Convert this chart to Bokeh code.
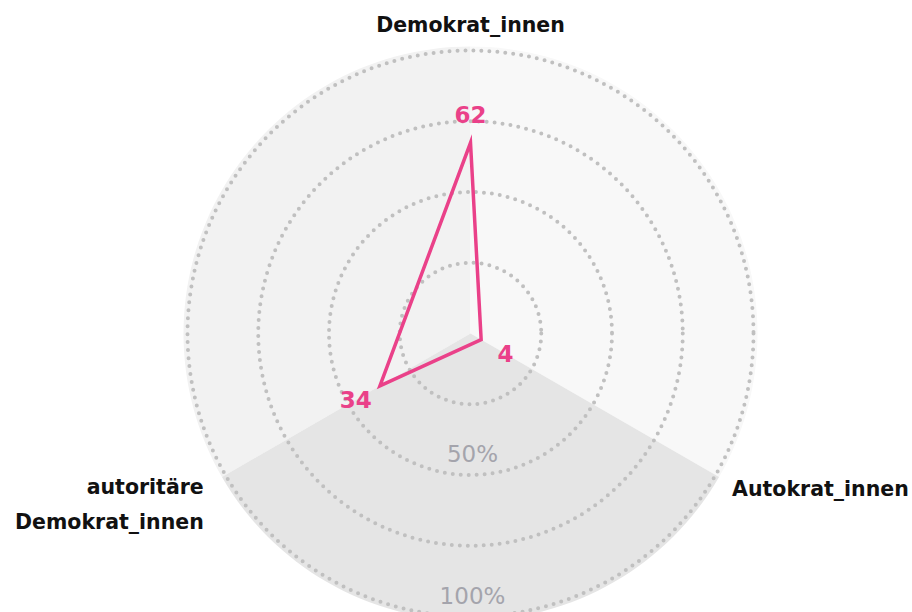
import numpy as np
from bokeh.plotting import figure
from bokeh.models import Range1d
from bokeh.core.properties import value
from bokeh.embed import file_html
from bokeh.resources import INLINE

# ---- data ----
categories = ["Demokrat_innen", "Autokrat_innen", "autoritäre\nDemokrat_innen"]
values = [62, 4, 34]
ring_levels = [25, 50, 75, 100]
tick_levels = [50, 100]
tick_labels = ["50%", "100%"]

# ---- layout / style ----
W, H = 912, 612
CX, CY = 470, 279          # centre in pixel-like data units
R_OUT = 283                # radius of outer ring
SCALE_MAX = 92             # value mapped to outer ring radius
axis_angles = np.deg2rad([90, -30, 210])
PINK = "#ea4189"
FONT = "DejaVu Sans"

def rad(v):
    return np.asarray(v, dtype=float) / SCALE_MAX * R_OUT

def ring_rad(level):
    return np.asarray(level, dtype=float) / 100 * R_OUT

p = figure(width=W, height=H, output_backend="svg", toolbar_location=None,
           x_range=Range1d(0, W), y_range=Range1d(0, H), min_border=0)
p.axis.visible = False
p.grid.visible = False
p.outline_line_color = None
p.background_fill_color = "white"

# sector backgrounds (between axes)
sec_colors = ["#f2f2f2", "#f8f8f8", "#e5e5e5"]
p.wedge(x=[CX] * 3, y=[CY] * 3, radius=R_OUT + 4,
        start_angle=[np.deg2rad(90), np.deg2rad(-30), np.deg2rad(210)],
        end_angle=[np.deg2rad(210), np.deg2rad(90), np.deg2rad(330)],
        fill_color=sec_colors, line_color=None)

# dotted rings
p.circle(x=[CX] * len(ring_levels), y=[CY] * len(ring_levels),
         radius=ring_rad(ring_levels), fill_color=None,
         line_color="#c0c0c0", line_width=4, line_dash="0 8", line_cap="round")

# ring tick labels
p.text(x=[CX + 2] * len(tick_levels), y=CY - (ring_rad(tick_levels) - 21),
       text=tick_labels, text_align="center", text_baseline="middle",
       text_color="#a4a4ac", text_font=value(FONT), text_font_size="23px")

# data polygon
r = rad(values)
xs = CX + r * np.cos(axis_angles)
ys = CY + r * np.sin(axis_angles)
p.patch(x=list(xs), y=list(ys), fill_color=None, line_color=PINK,
        line_width=3.5, line_join="miter")

# value labels
lr = r + 28
p.text(x=CX + lr * np.cos(axis_angles), y=CY + lr * np.sin(axis_angles),
       text=[str(v) for v in values], text_align="center",
       text_baseline="middle", text_color=PINK, text_font=value(FONT),
       text_font_size="23px", text_font_style="bold")

# category labels
lab_r = np.array([309, 302, 308])
lab_dy = np.array([0, -4, -17])
p.text(x=CX + lab_r * np.cos(axis_angles),
       y=CY + lab_r * np.sin(axis_angles) + lab_dy,
       text=categories, text_align=["center", "left", "right"],
       text_baseline="middle", text_color="#111111", text_font=value(FONT),
       text_font_size="20.5px", text_font_style="bold", text_line_height=1.45)

open("out.html", "w").write(file_html(p, INLINE))
